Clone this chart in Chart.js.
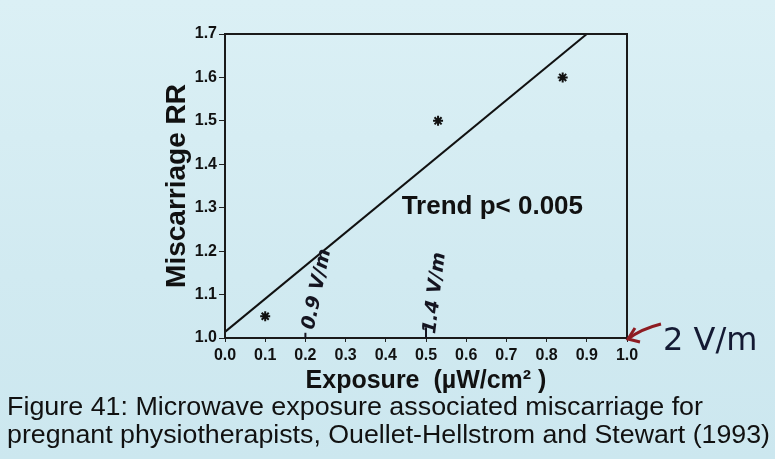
<!DOCTYPE html>
<html>
<head>
<meta charset="utf-8">
<script src="https://cdn.jsdelivr.net/npm/chart.js@4.4.1/dist/chart.umd.min.js"></script>
<style>
  html, body { margin: 0; padding: 0; }
  body { width: 775px; height: 459px; overflow: hidden; position: relative;
         background: linear-gradient(180deg, #dbf0f5 0%, #d1eaf1 60%, #cce7ef 100%); }
  #wrap { position: absolute; left: 0; top: 0; width: 775px; height: 459px; }
  .cap { position: absolute; left: 7px; font-family: "Liberation Sans", Arial, sans-serif;
         font-size: 25px; color: #111; white-space: nowrap; transform-origin: 0 0; line-height: 1; }
</style>
</head>
<body>
<div id="wrap"><canvas id="c" width="775" height="459"></canvas></div>
<div class="cap" id="cap1" style="top:394px">Figure 41: Microwave exposure associated miscarriage for</div>
<div class="cap" id="cap2" style="top:422px">pregnant physiotherapists, Ouellet-Hellstrom and Stewart (1993)</div>
<script>
// valores
var exposure = [0.1, 0.53, 0.84];
var miscarriageRR = [1.05, 1.5, 1.6];
var trendX = [0.0, 0.9];
var trendY = [1.014, 1.7];
var xTicks = [0.0, 0.1, 0.2, 0.3, 0.4, 0.5, 0.6, 0.7, 0.8, 0.9, 1.0];
var yTicks = [1.0, 1.1, 1.2, 1.3, 1.4, 1.5, 1.6, 1.7];
// notas escritas a mano sobre el eje x
var noteX = [0.2, 0.5];
var noteText = ['0.9 V/m', '1.4 V/m'];

// ajustar el ancho del pie de figura
function fitCaption(id, target) {
    var el = document.getElementById(id);
    var w = el.getBoundingClientRect().width;
    el.style.transform = 'scaleX(' + (target / w) + ')';
}
fitCaption('cap1', 696);
fitCaption('cap2', 763);

// marco, texto de tendencia y notas
var extras = {
    id: 'extras',
    afterDatasetsDraw: function (chart) {
        var ctx = chart.ctx;
        var a = chart.chartArea;
        var xs = chart.scales.x, ys = chart.scales.y;
        ctx.save();
        ctx.strokeStyle = '#1a1a1a';
        ctx.lineWidth = 2;
        ctx.strokeRect(a.left, a.top, a.right - a.left, a.bottom - a.top);

        ctx.fillStyle = '#111';
        ctx.font = 'bold 26px "Liberation Sans", Arial, sans-serif';
        ctx.textAlign = 'center';
        ctx.textBaseline = 'middle';
        ctx.fillText('Trend p< 0.005', xs.getPixelForValue(0.665), ys.getPixelForValue(1.302));

        // notas a mano
        ctx.strokeStyle = '#141420';
        ctx.fillStyle = '#141420';
        ctx.lineWidth = 2;
        var lens = [0.012, 0.025];
        var ang = [-78, -83];
        var sizes = [19, 19];
        var offs = [[0.008, 1.02], [0.01, 1.01]];
        for (var i = 0; i < noteX.length; i++) {
            var px = xs.getPixelForValue(noteX[i]);
            ctx.beginPath();
            ctx.moveTo(px, ys.getPixelForValue(1.0));
            ctx.lineTo(px, ys.getPixelForValue(1.0 + lens[i]));
            ctx.stroke();
            ctx.save();
            ctx.translate(xs.getPixelForValue(noteX[i] + offs[i][0]), ys.getPixelForValue(offs[i][1]));
            ctx.rotate(ang[i] * Math.PI / 180);
            ctx.font = 'italic bold ' + sizes[i] + 'px "DejaVu Sans", sans-serif';
            ctx.textAlign = 'left';
            ctx.fillText(noteText[i], 0, 0);
            ctx.restore();
        }

        // flecha roja y "2 V/m"
        var cx = xs.getPixelForValue(1.0), cy = ys.getPixelForValue(1.0);
        ctx.strokeStyle = '#8e1c22';
        ctx.lineWidth = 3;
        ctx.beginPath();
        ctx.moveTo(cx + 34, cy - 14);
        ctx.quadraticCurveTo(cx + 14, cy - 9, cx + 1, cy + 1);
        ctx.stroke();
        ctx.beginPath();
        ctx.moveTo(cx + 8, cy - 10);
        ctx.lineTo(cx + 1, cy + 1);
        ctx.lineTo(cx + 13, cy + 4);
        ctx.stroke();
        ctx.fillStyle = '#141a33';
        ctx.font = '32px "DejaVu Sans", sans-serif';
        ctx.textAlign = 'left';
        ctx.textBaseline = 'alphabetic';
        ctx.fillText('2 V/m', cx + 36, cy + 12);
        ctx.restore();
    }
};

new Chart(document.getElementById('c').getContext('2d'), {
    type: 'scatter',
    data: {
        datasets: [{
            label: 'RR',
            data: exposure.map(function (v, i) { return { x: v, y: miscarriageRR[i] }; }),
            pointStyle: 'star',
            radius: 5,
            borderWidth: 2,
            borderColor: '#111',
            backgroundColor: '#111'
        }, {
            label: 'Trend',
            data: trendX.map(function (v, i) { return { x: v, y: trendY[i] }; }),
            showLine: true,
            pointRadius: 0,
            borderWidth: 2,
            borderColor: '#111'
        }]
    },
    plugins: [extras],
    options: {
        responsive: false,
        animation: false,
        layout: { padding: { left: 0, top: 34, right: 148, bottom: 59 } },
        plugins: { legend: { display: false }, tooltip: { enabled: false } },
        scales: {
            x: {
                type: 'linear',
                min: 0, max: 1,
                afterBuildTicks: function (s) { s.ticks = xTicks.map(function (v) { return { value: v }; }); },
                afterFit: function (s) { s.height = 62; },
                ticks: {
                    color: '#111', padding: 4,
                    font: { family: '"Liberation Sans", Arial, sans-serif', size: 16, weight: 'bold' },
                    callback: function (v) { return v.toFixed(1); }
                },
                grid: { drawOnChartArea: false, tickLength: 4, color: '#222', lineWidth: 1 },
                border: { color: '#1a1a1a', width: 2 },
                title: {
                    display: true, text: 'Exposure  (µW/cm² )', color: '#111',
                    padding: { top: 0, bottom: 4 },
                    font: { family: '"Liberation Sans", Arial, sans-serif', size: 25, weight: 'bold' }
                }
            },
            y: {
                type: 'linear',
                min: 1.0, max: 1.7,
                afterBuildTicks: function (s) { s.ticks = yTicks.map(function (v) { return { value: v }; }); },
                afterFit: function (s) { s.width = 225; },
                ticks: {
                    color: '#111', padding: 2,
                    font: { family: '"Liberation Sans", Arial, sans-serif', size: 16, weight: 'bold' },
                    callback: function (v) { return v.toFixed(1); }
                },
                grid: { drawOnChartArea: false, tickLength: 6, color: '#222', lineWidth: 1 },
                border: { color: '#1a1a1a', width: 2 },
                title: {
                    display: true, text: 'Miscarriage RR', color: '#111',
                    padding: { top: 160, bottom: 0 },
                    font: { family: '"Liberation Sans", Arial, sans-serif', size: 28, weight: 'bold' }
                }
            }
        }
    }
});
</script>
</body>
</html>
